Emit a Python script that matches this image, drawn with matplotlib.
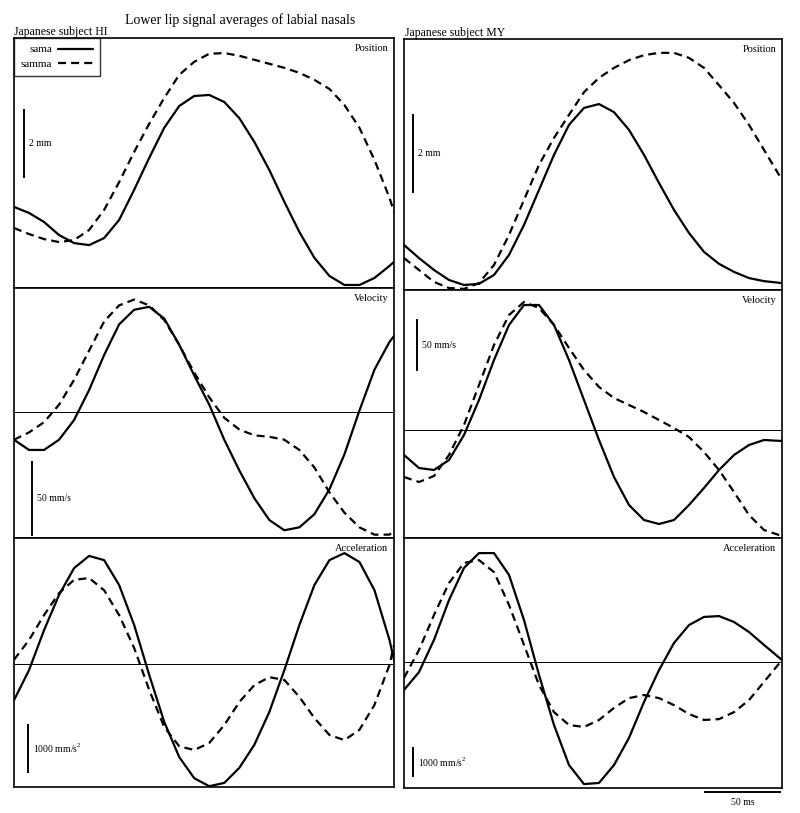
import numpy as np
import matplotlib
matplotlib.use("Agg")
import matplotlib.pyplot as plt
import matplotlib.transforms as mtrans

plt.rcParams['font.family'] = ['Liberation Serif', 'DejaVu Serif']
plt.rcParams['mathtext.fontset'] = 'custom'
plt.rcParams['mathtext.rm'] = 'Liberation Serif'

# time axis (ms)
t_hi = list(range(0, 260, 10)) + [253]
t_my = list(range(0, 250, 10)) + [252]

# subject HI
hi_pos_sama = [2.42, 2.24, 1.97, 1.58, 1.34, 1.28, 1.49, 2.03, 2.93, 3.88, 4.78, 5.43, 5.73, 5.76,
               5.55, 5.07, 4.36, 3.52, 2.57, 1.67, 0.90, 0.36, 0.09, 0.09, 0.30, 0.66, 0.78]
hi_pos_samma = [1.79, 1.61, 1.46, 1.37, 1.43, 1.73, 2.33, 3.16, 4.06, 4.90, 5.67, 6.36, 6.75, 6.99,
                7.01, 6.93, 6.81, 6.69, 6.57, 6.42, 6.21, 5.94, 5.46, 4.78, 3.82, 2.69, 2.27]
hi_vel_sama = [-19, -26, -26, -19, -5.5, 15, 39, 60, 70, 72, 64, 46, 25, 5, -19, -40, -59, -74,
               -81, -79, -70, -53, -29, 1, 29, 48, 52]
hi_vel_samma = [-19, -14, -7, 5, 22, 42, 62, 73, 77, 73, 63, 46, 27, 10, -4, -12, -16, -17,
                -19, -26, -38, -55, -69, -79, -84, -84, -81]
hi_acc_sama = [-770, -130, 720, 1470, 2040, 2300, 2210, 1680, 830, -230, -1230, -1980, -2430, -2600,
               -2530, -2210, -1720, -1020, -130, 830, 1680, 2210, 2360, 2170, 1570, 510, 90]
hi_acc_samma = [90, 510, 1040, 1510, 1790, 1830, 1570, 1040, 340, -550, -1340, -1750, -1830, -1680,
                -1300, -810, -450, -280, -340, -700, -1150, -1510, -1620, -1400, -870, -20, 400]

# subject MY
my_pos_sama = [1.17, 0.83, 0.52, 0.26, 0.13, 0.16, 0.39, 0.91, 1.69, 2.60, 3.51, 4.29, 4.73,
               4.83, 4.62, 4.16, 3.51, 2.78, 2.08, 1.48, 0.99, 0.68, 0.47, 0.31, 0.23, 0.18]
my_pos_samma = [0.83, 0.52, 0.21, 0.05, 0.03, 0.18, 0.65, 1.43, 2.34, 3.25, 3.95, 4.55, 5.14,
                5.51, 5.77, 5.97, 6.10, 6.16, 6.16, 6.03, 5.77, 5.32, 4.86, 4.29, 3.64, 2.86]
my_vel_sama = [-25, -38, -40, -30, -5, 30, 70, 105, 125, 125, 105, 70, 30, -10, -47, -75, -90,
               -94, -90, -75, -58, -40, -25, -15, -10, -11]
my_vel_samma = [-47, -52, -46, -25, 5, 45, 85, 115, 128, 122, 105, 82, 60, 43, 32, 25, 18, 10,
                2, -7, -22, -40, -62, -85, -100, -106]
my_acc_sama = [-1000, -360, 790, 2210, 3360, 3890, 3890, 3110, 1500, -460, -2250, -3680, -4360,
               -4320, -3680, -2710, -1430, -290, 680, 1320, 1610, 1640, 1430, 1070, 610, 70]
my_acc_samma = [-570, 430, 1680, 2820, 3540, 3640, 3210, 2040, 610, -820, -1790, -2250, -2320,
                -2070, -1640, -1290, -1180, -1290, -1540, -1860, -2070, -2040, -1790, -1360, -710, 70]

panel_names = ["Position", "Velocity", "Acceleration"]
scale_labels = ["2 mm", "50 mm/s", "1000 mm/s$^{2}$"]
scale_sizes = [2, 50, 1000]

W, H = 800, 813
fig = plt.figure(figsize=(W / 100, H / 100), dpi=100)


def px_axes(x0, y0, x1, y1):
    return fig.add_axes([x0 / W, 1 - y1 / H, (x1 - x0) / W, (y1 - y0) / H])


columns = [
    dict(t=t_hi, xlim=(0, 253),
         rows=[(38, 288), (288, 538), (538, 787)], x=(14, 394),
         data=[(hi_pos_sama, hi_pos_samma), (hi_vel_sama, hi_vel_samma), (hi_acc_sama, hi_acc_samma)],
         ylims=[(0, 7.46), (-86.3, 84.9), (-2617, 2681)],
         bars=[(6.7, 3.31), (12, -84), (9.3, -2300)]),
    dict(t=t_my, xlim=(0, 252),
         rows=[(39, 290), (290, 538), (538, 788)], x=(404, 782),
         data=[(my_pos_sama, my_pos_samma), (my_vel_sama, my_vel_samma), (my_acc_sama, my_acc_samma)],
         ylims=[(0, 6.52), (-108, 140), (-4500, 4429)],
         bars=[(6, 2.55), (8.7, 60), (6, -4070)]),
]

dash = (0, (3.6, 2.3))
for c, col in enumerate(columns):
    for r in range(3):
        y0, y1 = col["rows"][r]
        ax = px_axes(col["x"][0], y0, col["x"][1], y1)
        sama, samma = col["data"][r]
        ax.plot(col["t"], sama, color="black", lw=1.6, label="sama",
                solid_joinstyle="round", solid_capstyle="round")
        ax.plot(col["t"], samma, color="black", lw=1.6, linestyle=dash, label="samma",
                dash_joinstyle="round")
        if r > 0:
            ax.axhline(0, color="black", lw=0.7)
        ax.set_xlim(col["xlim"])
        ax.set_ylim(col["ylims"][r])
        ax.set_xticks([])
        ax.set_yticks([])
        for s in ax.spines.values():
            s.set_linewidth(1.2)
        ax.text(0.985, 0.975, panel_names[r], transform=ax.transAxes, ha="right", va="top", fontsize=7.5)
        bx, by = col["bars"][r]
        ax.plot([bx, bx], [by, by + scale_sizes[r]], color="black", lw=1.4)
        ax.text(bx + 3.5, by + scale_sizes[r] / 2, scale_labels[r], fontsize=7, va="center", ha="left")
        if c == 0 and r == 0:
            leg = ax.legend(loc="upper left", bbox_to_anchor=(0, 1), borderaxespad=0, markerfirst=False,
                            handlelength=3.2, handletextpad=0.5, fontsize=8, frameon=True,
                            fancybox=False, edgecolor="black", borderpad=0.6, labelspacing=0.45)
            leg.get_frame().set_linewidth(1.0)
        if c == 1 and r == 2:
            tr = mtrans.blended_transform_factory(ax.transData, ax.transAxes)
            ax.plot([200.7, 250.7], [-0.016, -0.016], color="black", lw=1.4, transform=tr, clip_on=False)
            ax.text(225.7, -0.04, "50 ms", transform=tr, ha="center", va="top", fontsize=7)

fig.text(240 / W, 1 - 20 / H, "Lower lip signal averages of labial nasals", ha="center", va="center", fontsize=10)
fig.text(14 / W, 1 - 32 / H, "Japanese subject HI", ha="left", va="center", fontsize=8.5)
fig.text(405 / W, 1 - 33 / H, "Japanese subject MY", ha="left", va="center", fontsize=8.5)

fig.savefig("out.png", dpi=100)
